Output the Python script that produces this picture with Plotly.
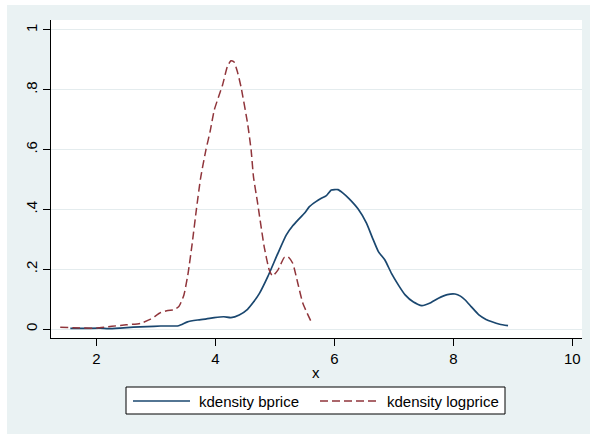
import plotly.graph_objects as go

# Kernel density estimates of bprice and logprice
bprice_x = [1.56, 1.80, 2.06, 2.20, 2.40, 2.62, 2.85, 3.08, 3.38, 3.53, 3.70, 3.85,
            3.98, 4.14, 4.26, 4.40, 4.54, 4.64, 4.74, 4.88, 5.05, 5.19, 5.30, 5.39,
            5.50, 5.58, 5.69, 5.78, 5.86, 5.95, 6.06, 6.14, 6.25, 6.40, 6.54, 6.64,
            6.74, 6.85, 6.96, 7.08, 7.19, 7.33, 7.47, 7.60, 7.75, 7.90, 8.03, 8.12,
            8.20, 8.30, 8.43, 8.55, 8.65, 8.78, 8.92]
bprice_y = [0.002, 0.002, 0.003, 0.001, 0.003, 0.006, 0.008, 0.010, 0.011, 0.024, 0.030, 0.034,
            0.038, 0.041, 0.038, 0.047, 0.066, 0.090, 0.119, 0.175, 0.253, 0.314, 0.345, 0.365,
            0.388, 0.409, 0.426, 0.437, 0.445, 0.465, 0.466, 0.455, 0.435, 0.401, 0.354, 0.305,
            0.259, 0.231, 0.186, 0.146, 0.114, 0.090, 0.078, 0.086, 0.103, 0.115, 0.117, 0.110,
            0.097, 0.075, 0.047, 0.032, 0.024, 0.016, 0.011]

logprice_x = [1.39, 1.60, 2.00, 2.26, 2.50, 2.74, 2.91, 3.08, 3.20, 3.30, 3.385, 3.47,
              3.54, 3.61, 3.68, 3.75, 3.84, 3.91, 3.98, 4.05, 4.12, 4.20, 4.26, 4.31,
              4.37, 4.43, 4.54, 4.60, 4.64, 4.71, 4.82, 4.905, 4.96, 5.05, 5.16, 5.22,
              5.30, 5.385, 5.47, 5.61]
logprice_y = [0.006, 0.004, 0.003, 0.009, 0.014, 0.019, 0.033, 0.055, 0.062, 0.064, 0.075, 0.114,
              0.186, 0.287, 0.400, 0.504, 0.599, 0.660, 0.732, 0.775, 0.816, 0.877, 0.897, 0.894,
              0.860, 0.810, 0.688, 0.599, 0.509, 0.420, 0.275, 0.197, 0.177, 0.197, 0.240, 0.242,
              0.220, 0.153, 0.086, 0.024]

x_ticks = [2, 4, 6, 8, 10]
y_ticks = [0, 0.2, 0.4, 0.6, 0.8, 1]
y_tick_labels = ["0", ".2", ".4", ".6", ".8", "1"]
legend_labels = ["kdensity bprice", "kdensity logprice"]

NAVY = "#1A476F"
MAROON = "#90353B"
BG = "#EAF2F3"
GRID = "#E4ECEE"
FONT = "Liberation Sans, Arial, sans-serif"
FS = 15

W, H = 590, 434
L, R, T, B = 51, 8, 20, 96
PW, PH = W - L - R, H - T - B


def px(x):
    return (x - L) / PW


def py(y):
    return (T + PH - y) / PH


fig = go.Figure()
fig.add_trace(go.Scatter(x=bprice_x, y=bprice_y, mode="lines", name=legend_labels[0],
                         line=dict(color=NAVY, width=1.7, shape="spline", smoothing=0.5)))
fig.add_trace(go.Scatter(x=logprice_x, y=logprice_y, mode="lines", name=legend_labels[1],
                         line=dict(color=MAROON, width=1.5, dash="8px,4px",
                                   shape="spline", smoothing=0.5)))

shapes = [
    # white strips around the outer graph region
    dict(type="rect", xref="paper", yref="paper", x0=px(0), x1=px(7), y0=py(H), y1=py(0),
         fillcolor="white", line_width=0, layer="below"),
    dict(type="rect", xref="paper", yref="paper", x0=px(0), x1=px(W), y0=py(5), y1=py(0),
         fillcolor="white", line_width=0, layer="below"),
    # legend box
    dict(type="rect", xref="paper", yref="paper", x0=px(126), x1=px(505), y0=py(414), y1=py(387),
         fillcolor="white", line=dict(color="black", width=1)),
    dict(type="line", xref="paper", yref="paper", x0=px(133), x1=px(190), y0=py(401), y1=py(401),
         line=dict(color=NAVY, width=1.7)),
    dict(type="line", xref="paper", yref="paper", x0=px(320), x1=px(378), y0=py(401), y1=py(401),
         line=dict(color=MAROON, width=1.5, dash="8px,4px")),
]

annotations = [
    dict(xref="paper", yref="paper", x=px(197), y=py(401), text=legend_labels[0],
         showarrow=False, xanchor="left", yanchor="middle",
         font=dict(family=FONT, size=FS, color="black")),
    dict(xref="paper", yref="paper", x=px(385), y=py(401), text=legend_labels[1],
         showarrow=False, xanchor="left", yanchor="middle",
         font=dict(family=FONT, size=FS, color="black")),
    dict(xref="paper", yref="paper", x=px(316), y=py(372), text="x",
         showarrow=False, xanchor="center", yanchor="middle",
         font=dict(family=FONT, size=FS, color="black")),
]

fig.update_layout(
    width=W, height=H,
    margin=dict(l=L, r=R, t=T, b=B, pad=0),
    paper_bgcolor=BG, plot_bgcolor="white",
    showlegend=False,
    font=dict(family=FONT, size=FS, color="black"),
    shapes=shapes, annotations=annotations,
)
fig.update_xaxes(range=[1.235, 10.164], tickvals=x_ticks, ticks="outside", ticklen=7,
                 tickcolor="black", showline=True, linecolor="black", linewidth=1,
                 showgrid=False, zeroline=False, tickfont=dict(size=FS))
fig.update_yaxes(range=[-0.0301, 1.0334], tickvals=y_ticks, ticktext=y_tick_labels,
                 tickangle=-90, ticks="outside", ticklen=7, tickcolor="black",
                 showline=True, linecolor="black", linewidth=1,
                 showgrid=True, gridcolor=GRID, gridwidth=1.2, zeroline=False,
                 tickfont=dict(size=FS))

fig.write_html("out.html")
